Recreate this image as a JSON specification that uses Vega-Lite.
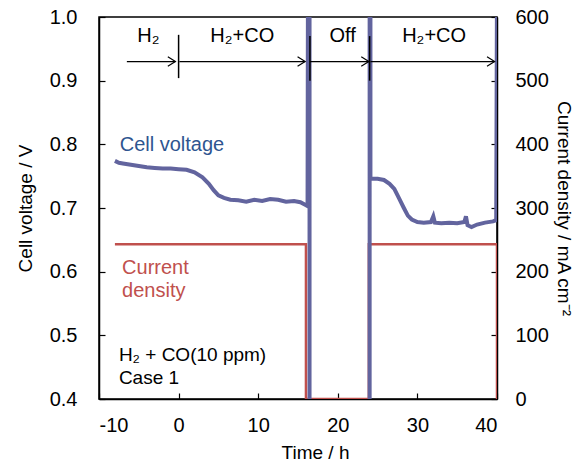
{
  "$schema": "https://vega.github.io/schema/vega-lite/v6.json",
  "width": 398,
  "height": 382,
  "autosize": {"type": "none"},
  "padding": {"left": 99, "top": 17, "right": 86, "bottom": 64},
  "background": "white",
  "config": {
    "font": "Liberation Sans",
    "view": {"stroke": "#000", "strokeWidth": 1.5},
    "axis": {
      "labelFont": "Liberation Sans", "labelFontSize": 20, "labelColor": "#000",
      "titleFont": "Liberation Sans", "titleFontSize": 19, "titleFontWeight": "normal", "titleColor": "#000",
      "domainColor": "#000", "domainWidth": 1.5, "tickColor": "#000", "tickWidth": 1.2,
      "tickSize": -6, "grid": false
    }
  },
  "datasets": {
    "volt": [
      {"i": 1, "t": -8.0, "v": 0.774}, {"i": 2, "t": -7.5, "v": 0.771}, {"i": 3, "t": -7.0, "v": 0.770},
      {"i": 4, "t": -6.0, "v": 0.768}, {"i": 5, "t": -5.0, "v": 0.766}, {"i": 6, "t": -4.0, "v": 0.764},
      {"i": 7, "t": -3.0, "v": 0.763}, {"i": 8, "t": -2.0, "v": 0.762}, {"i": 9, "t": -1.0, "v": 0.762},
      {"i": 10, "t": 0.0, "v": 0.761}, {"i": 11, "t": 1.0, "v": 0.760}, {"i": 12, "t": 2.0, "v": 0.756},
      {"i": 13, "t": 3.0, "v": 0.748}, {"i": 14, "t": 3.8, "v": 0.738}, {"i": 15, "t": 4.4, "v": 0.728},
      {"i": 16, "t": 5.0, "v": 0.720}, {"i": 17, "t": 5.7, "v": 0.716}, {"i": 18, "t": 6.5, "v": 0.713},
      {"i": 19, "t": 7.5, "v": 0.712}, {"i": 20, "t": 8.5, "v": 0.710}, {"i": 21, "t": 9.5, "v": 0.713},
      {"i": 22, "t": 10.5, "v": 0.711}, {"i": 23, "t": 11.5, "v": 0.714}, {"i": 24, "t": 12.5, "v": 0.713},
      {"i": 25, "t": 13.5, "v": 0.710}, {"i": 26, "t": 14.5, "v": 0.711}, {"i": 27, "t": 15.3, "v": 0.709},
      {"i": 28, "t": 15.9, "v": 0.705}, {"i": 29, "t": 16.2, "v": 0.703}, {"i": 30, "t": 16.25, "v": 1.05},
      {"i": 31, "t": 16.45, "v": 1.05}, {"i": 32, "t": 16.45, "v": 0.35}, {"i": 33, "t": 24.0, "v": 0.35},
      {"i": 34, "t": 24.0, "v": 1.05}, {"i": 35, "t": 24.1, "v": 1.05}, {"i": 36, "t": 24.1, "v": 0.746},
      {"i": 37, "t": 25.0, "v": 0.746}, {"i": 38, "t": 25.8, "v": 0.744}, {"i": 39, "t": 26.5, "v": 0.738},
      {"i": 40, "t": 27.1, "v": 0.730}, {"i": 41, "t": 27.7, "v": 0.715}, {"i": 42, "t": 28.3, "v": 0.700},
      {"i": 43, "t": 28.8, "v": 0.688}, {"i": 44, "t": 29.3, "v": 0.682}, {"i": 45, "t": 30.0, "v": 0.678},
      {"i": 46, "t": 30.8, "v": 0.677}, {"i": 47, "t": 31.7, "v": 0.678}, {"i": 48, "t": 32.0, "v": 0.687},
      {"i": 49, "t": 32.2, "v": 0.677}, {"i": 50, "t": 33.0, "v": 0.676}, {"i": 51, "t": 34.0, "v": 0.677},
      {"i": 52, "t": 35.0, "v": 0.676}, {"i": 53, "t": 35.9, "v": 0.678}, {"i": 54, "t": 36.1, "v": 0.687},
      {"i": 55, "t": 36.3, "v": 0.673}, {"i": 56, "t": 36.8, "v": 0.670}, {"i": 57, "t": 37.5, "v": 0.674},
      {"i": 58, "t": 38.5, "v": 0.677}, {"i": 59, "t": 39.5, "v": 0.679}, {"i": 60, "t": 39.9, "v": 0.681},
      {"i": 61, "t": 40.0, "v": 1.05}
    ],
    "curr": [
      {"i": 1, "t": -8.0, "c": 243}, {"i": 2, "t": 16.0, "c": 243}, {"i": 3, "t": 16.0, "c": 0},
      {"i": 4, "t": 23.9, "c": 0}, {"i": 5, "t": 23.9, "c": 243}, {"i": 6, "t": 40.0, "c": 243},
      {"i": 7, "t": 40.0, "c": 0}
    ],
    "arrows": [
      {"t0": -6.5, "t1": -0.4, "v": 0.93}, {"t0": 0.1, "t1": 15.9, "v": 0.93},
      {"t0": 16.5, "t1": 23.9, "v": 0.93}, {"t0": 24.1, "t1": 39.7, "v": 0.93}
    ],
    "ticks": [
      {"t": 0.0, "v0": 0.904, "v1": 0.972}, {"t": 16.5, "v0": 0.90, "v1": 0.97}, {"t": 24.0, "v0": 0.90, "v1": 0.97}
    ],
    "phases": [
      {"t": -3.8, "v": 0.970, "label": "H₂"}, {"t": 8.0, "v": 0.970, "label": "H₂+CO"},
      {"t": 20.6, "v": 0.970, "label": "Off"}, {"t": 32.1, "v": 0.970, "label": "H₂+CO"}
    ],
    "notes": [
      {"t": -7.5, "v": 0.469, "label": "H₂ + CO(10 ppm)"}, {"t": -7.5, "v": 0.4325, "label": "Case 1"}
    ],
    "vlabel": [{"t": -7.4, "v": 0.799, "label": "Cell voltage"}],
    "clabel": [
      {"t": -7.1, "v": 0.605, "label": "Current"}, {"t": -7.1, "v": 0.569, "label": "density"}
    ]
  },
  "layer": [
    {
      "data": {"name": "curr"},
      "mark": {"type": "line", "color": "#c0504d", "strokeWidth": 2.5, "clip": true},
      "encoding": {
        "x": {"field": "t", "type": "quantitative", "scale": {"domain": [-10, 40], "nice": false},
              "axis": {"title": "Time / h", "values": [-10, 0, 10, 20, 30, 40], "labelExpr": "toString(datum.value)", "labelPadding": 22, "titlePadding": 8, "titleX": 216}},
        "y": {"field": "c", "type": "quantitative", "scale": {"domain": [0, 600], "nice": false},
              "axis": {"orient": "right", "title": "Current density  / mA cm⁻²", "values": [0, 100, 200, 300, 400, 500, 600], "labelPadding": 24, "titlePadding": 5}},
        "order": {"field": "i", "type": "quantitative"}
      }
    },
    {
      "data": {"name": "volt"},
      "mark": {"type": "line", "color": "#62649e", "strokeWidth": 4, "clip": true},
      "encoding": {
        "x": {"field": "t", "type": "quantitative", "scale": {"domain": [-10, 40], "nice": false},
              "axis": {"title": "Time / h", "values": [-10, 0, 10, 20, 30, 40], "labelExpr": "toString(datum.value)", "labelPadding": 22, "titlePadding": 8, "titleX": 216}},
        "y": {"field": "v", "type": "quantitative", "scale": {"domain": [0.4, 1.0], "nice": false},
              "axis": {"orient": "left", "title": "Cell voltage / V", "values": [0.4, 0.5, 0.6, 0.7, 0.8, 0.9, 1.0], "format": ".1f", "labelPadding": 28, "titlePadding": 14}},
        "order": {"field": "i", "type": "quantitative"}
      }
    },
    {
      "data": {"name": "arrows"},
      "mark": {"type": "rule", "color": "#000", "strokeWidth": 1.2},
      "encoding": {
        "x": {"field": "t0", "type": "quantitative", "scale": {"domain": [-10, 40], "nice": false},
              "axis": {"title": "Time / h", "values": [-10, 0, 10, 20, 30, 40], "labelExpr": "toString(datum.value)", "labelPadding": 22, "titlePadding": 8, "titleX": 216}},
        "x2": {"field": "t1"},
        "y": {"field": "v", "type": "quantitative", "scale": {"domain": [0.4, 1.0], "nice": false}, "axis": null}
      }
    },
    {
      "data": {"name": "arrows"},
      "mark": {"type": "point", "shape": "M-1.6,-1L0,0L-1.6,1", "size": 90, "filled": false, "stroke": "#000", "strokeWidth": 1.2, "opacity": 1},
      "encoding": {
        "x": {"field": "t1", "type": "quantitative", "scale": {"domain": [-10, 40], "nice": false},
              "axis": {"title": "Time / h", "values": [-10, 0, 10, 20, 30, 40], "labelExpr": "toString(datum.value)", "labelPadding": 22, "titlePadding": 8, "titleX": 216}},
        "y": {"field": "v", "type": "quantitative", "scale": {"domain": [0.4, 1.0], "nice": false}, "axis": null}
      }
    },
    {
      "data": {"name": "ticks"},
      "mark": {"type": "rule", "color": "#000", "strokeWidth": 1.5},
      "encoding": {
        "x": {"field": "t", "type": "quantitative", "scale": {"domain": [-10, 40], "nice": false},
              "axis": {"title": "Time / h", "values": [-10, 0, 10, 20, 30, 40], "labelExpr": "toString(datum.value)", "labelPadding": 22, "titlePadding": 8, "titleX": 216}},
        "y": {"field": "v0", "type": "quantitative", "scale": {"domain": [0.4, 1.0], "nice": false}, "axis": null},
        "y2": {"field": "v1"}
      }
    },
    {
      "data": {"name": "phases"},
      "mark": {"type": "text", "color": "#000", "fontSize": 20, "align": "center", "baseline": "middle"},
      "encoding": {
        "x": {"field": "t", "type": "quantitative", "scale": {"domain": [-10, 40], "nice": false},
              "axis": {"title": "Time / h", "values": [-10, 0, 10, 20, 30, 40], "labelExpr": "toString(datum.value)", "labelPadding": 22, "titlePadding": 8, "titleX": 216}},
        "y": {"field": "v", "type": "quantitative", "scale": {"domain": [0.4, 1.0], "nice": false}, "axis": null},
        "text": {"field": "label"}
      }
    },
    {
      "data": {"name": "notes"},
      "mark": {"type": "text", "color": "#000", "fontSize": 19, "align": "left", "baseline": "middle"},
      "encoding": {
        "x": {"field": "t", "type": "quantitative", "scale": {"domain": [-10, 40], "nice": false},
              "axis": {"title": "Time / h", "values": [-10, 0, 10, 20, 30, 40], "labelExpr": "toString(datum.value)", "labelPadding": 22, "titlePadding": 8, "titleX": 216}},
        "y": {"field": "v", "type": "quantitative", "scale": {"domain": [0.4, 1.0], "nice": false}, "axis": null},
        "text": {"field": "label"}
      }
    },
    {
      "data": {"name": "vlabel"},
      "mark": {"type": "text", "color": "#2e5590", "fontSize": 20, "align": "left", "baseline": "middle"},
      "encoding": {
        "x": {"field": "t", "type": "quantitative", "scale": {"domain": [-10, 40], "nice": false},
              "axis": {"title": "Time / h", "values": [-10, 0, 10, 20, 30, 40], "labelExpr": "toString(datum.value)", "labelPadding": 22, "titlePadding": 8, "titleX": 216}},
        "y": {"field": "v", "type": "quantitative", "scale": {"domain": [0.4, 1.0], "nice": false}, "axis": null},
        "text": {"field": "label"}
      }
    },
    {
      "data": {"name": "clabel"},
      "mark": {"type": "text", "color": "#c0504d", "fontSize": 20, "align": "left", "baseline": "middle"},
      "encoding": {
        "x": {"field": "t", "type": "quantitative", "scale": {"domain": [-10, 40], "nice": false},
              "axis": {"title": "Time / h", "values": [-10, 0, 10, 20, 30, 40], "labelExpr": "toString(datum.value)", "labelPadding": 22, "titlePadding": 8, "titleX": 216}},
        "y": {"field": "v", "type": "quantitative", "scale": {"domain": [0.4, 1.0], "nice": false}, "axis": null},
        "text": {"field": "label"}
      }
    }
  ],
  "resolve": {"scale": {"y": "independent"}}
}
